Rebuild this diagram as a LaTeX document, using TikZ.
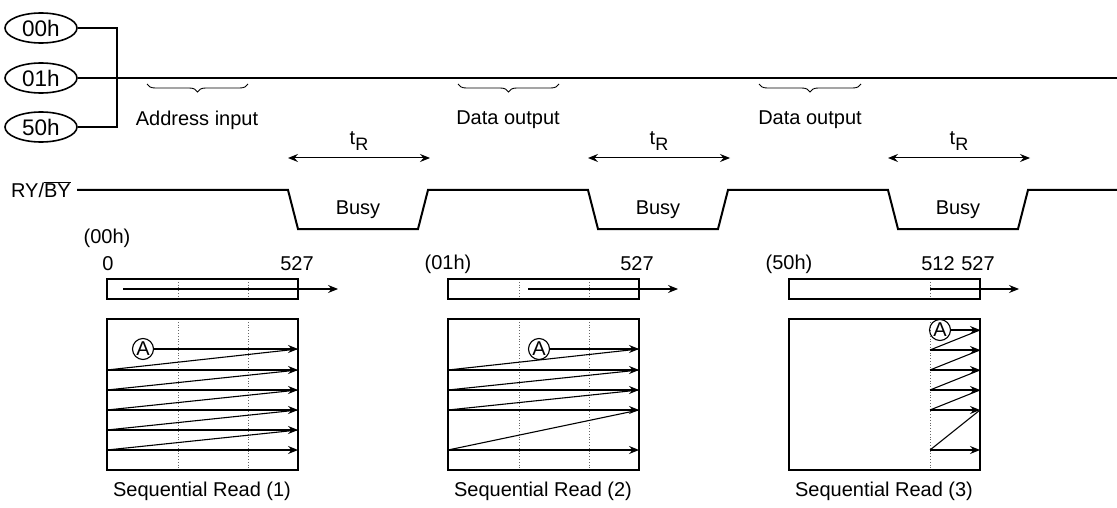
\documentclass[tikz,border=0pt]{standalone}
\usepackage{fontspec}
\setmainfont{Liberation Sans}
\usetikzlibrary{arrows.meta,shapes.geometric,decorations.pathreplacing}
\begin{document}
\begin{tikzpicture}[x=1pt,y=-1pt,
  every node/.style={font=\fontsize{20}{23}\selectfont, inner sep=0pt},
  cmd/.style={draw, ellipse, line width=1.6pt, minimum width=72pt, minimum height=30pt,
              font=\fontsize{22.5}{25}\selectfont},
  sig/.style={line width=2pt},
  boxline/.style={line width=1.3pt},
  grid/.style={dotted, line width=0.8pt, black!60},
  tip/.style={line width=1.1pt, -{Stealth[length=10pt,width=8pt,inset=3.5pt]}},
  both/.style={line width=1pt, {Stealth[length=10pt,width=8pt,inset=3.5pt]}-{Stealth[length=10pt,width=8pt,inset=3.5pt]}},
  ret/.style={line width=1.1pt},
  brc/.style={line width=0.9pt, decorate, decoration={brace, mirror, amplitude=8pt}},
  circA/.style={draw, circle, line width=1.1pt, minimum size=21pt, font=\fontsize{20}{22}\selectfont}
]
\useasboundingbox (0,0) rectangle (1117,508);

% command codes and I/O line
\node[cmd] (c00) at (41,28) {00h};
\node[cmd] (c01) at (41,78) {01h};
\node[cmd] (c50) at (41,127) {50h};
\coordinate (join) at (117,78);
\coordinate (ioend) at (1117,78);
\draw[sig] (c00.east) -| (join) |- (c50.east);
\draw[sig] (c01.east) -- (ioend);

% phases on the I/O line
\draw[brc] (147,84) -- (248,84);
\node at (197,120) {Address input};
\draw[brc] (458,84) -- (559,84);
\node at (508,120) {Data output};
\draw[brc] (759,84) -- (861,84);
\node at (810,120) {Data output};

% read time tR
\foreach \xa/\xb in {288/430, 588/730, 888/1030}{
  \draw[both] (\xa,158) -- (\xb,158);
  \node at ({(\xa+\xb)/2},141) {t\raisebox{-0.3em}{\fontsize{18}{20}\selectfont R}};
}

% RY/BY line
\node[anchor=east] (rb) at (71,190) {RY/$\overline{\mbox{BY}}$};
\draw[sig] (77,190) -- (288,190) -- (298,229) -- (418,229) -- (428,190)
  -- (588,190) -- (598,229) -- (718,229) -- (728,190)
  -- (888,190) -- (898,229) -- (1018,229) -- (1028,190) -- (1117,190);
\node at (358,210) {Busy};
\node at (658,210) {Busy};
\node at (958,210) {Busy};

% ---- Sequential Read (1)
\node at (107,238) {(00h)};
\node at (108,264) {0};
\node at (297,264) {527};
\foreach \x in {178,248}{
  \draw[grid] (\x,279) -- (\x,299);
  \draw[grid] (\x,319) -- (\x,470);
}
\draw[boxline] (107,279) rectangle (298,299);
\draw[boxline] (107,319) rectangle (298,470);
\draw[tip] (123,289) -- (338,289);
\node[circA] (a1) at (143,349) {A};
\draw[tip] (a1) -- (298,349);
\foreach \y in {370,390,410,430,450}
  \draw[tip] (107,\y) -- (298,\y);
\foreach \ya/\yb in {370/349,390/370,410/390,430/410,450/430}
  \draw[ret] (107,\ya) -- (298,\yb);
\node at (202,491) {Sequential Read (1)};

% ---- Sequential Read (2)
\node at (448,264) {(01h)};
\node at (637,264) {527};
\foreach \x in {519,589}{
  \draw[grid] (\x,279) -- (\x,299);
  \draw[grid] (\x,319) -- (\x,470);
}
\draw[boxline] (448,279) rectangle (639,299);
\draw[boxline] (448,319) rectangle (639,470);
\draw[tip] (528,289) -- (678,289);
\node[circA] (a2) at (539,349) {A};
\draw[tip] (a2) -- (639,349);
\foreach \y in {370,390,410,450}
  \draw[tip] (448,\y) -- (639,\y);
\foreach \ya/\yb in {370/349,390/370,410/390,450/410}
  \draw[ret] (448,\ya) -- (639,\yb);
\node at (543,491) {Sequential Read (2)};

% ---- Sequential Read (3)
\node at (789,264) {(50h)};
\node at (938,264) {512};
\node at (978,264) {527};
\draw[grid] (930,279) -- (930,299);
\draw[grid] (930,319) -- (930,470);
\draw[boxline] (789,279) rectangle (980,299);
\draw[boxline] (789,319) rectangle (980,470);
\draw[tip] (930,289) -- (1019,289);
\node[circA] (a3) at (940,330) {A};
\draw[tip] (a3) -- (980,330);
\foreach \y in {350,370,390,410,450}
  \draw[tip] (930,\y) -- (980,\y);
\foreach \ya/\yb in {350/330,370/350,390/370,410/390,450/410}
  \draw[ret] (930,\ya) -- (980,\yb);
\node at (884,491) {Sequential Read (3)};
\end{tikzpicture}
\end{document}
